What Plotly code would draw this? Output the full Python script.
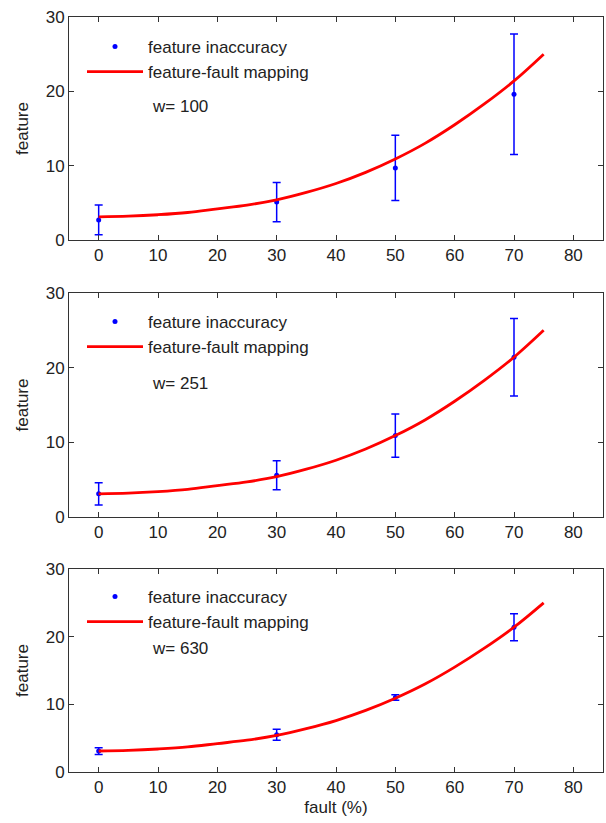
import plotly.graph_objects as go

# ---- data ----
fault_pts = [0, 30, 50, 70]
panel_labels = ["w= 100", "w= 251", "w= 630"]

feat_w100 = [2.7, 5.1, 9.7, 19.6]
err_w100 = [2.0, 2.65, 4.4, 8.1]

feat_w251 = [3.1, 5.6, 10.9, 21.4]
err_w251 = [1.5, 1.95, 2.9, 5.2]

feat_w630 = [3.1, 5.5, 11.0, 21.4]
err_w630 = [0.5, 0.8, 0.4, 2.0]

curve_x = [0, 5, 10, 15, 20, 25, 30, 35, 40, 45, 50, 55, 60, 65, 70, 75]
curve_y = [3.1, 3.2, 3.4, 3.7, 4.2, 4.7, 5.4, 6.4, 7.6, 9.1, 10.9, 13.0, 15.5, 18.3, 21.4, 25.0]

x_ticks = [0, 10, 20, 30, 40, 50, 60, 70, 80]
y_ticks = [0, 10, 20, 30]

feats = [feat_w100, feat_w251, feat_w630]
errs = [err_w100, err_w251, err_w630]

W, H = 606, 823
ml, mr, mt, mb = 69, 3, 16, 51
ph = H - mt - mb
pw = W - ml - mr
panels_px = [(17, 240), (293, 517), (569, 772)]

def ydom(top, bot):
    return [(H - mb - bot) / ph, (H - mb - top) / ph]

FONT = "Liberation Sans, Arial, sans-serif"
FS = 17
fig = go.Figure()

legend_names = ["legend", "legend2", "legend3"]
legend_tops = [29, 304, 579]
note_y = [106, 383, 648]

for i in range(3):
    xa = "x" if i == 0 else f"x{i+1}"
    ya = "y" if i == 0 else f"y{i+1}"
    fig.add_trace(go.Scatter(
        x=fault_pts, y=feats[i], mode="markers",
        marker=dict(color="#0000ff", size=5),
        error_y=dict(type="data", array=errs[i], visible=True,
                     color="#0000ff", thickness=1.5, width=4),
        name="feature inaccuracy", xaxis=xa, yaxis=ya,
        legend=legend_names[i]))
    fig.add_trace(go.Scatter(
        x=curve_x, y=curve_y, mode="lines",
        line=dict(color="#ff0000", width=2.8, shape="spline"),
        name="feature-fault mapping", xaxis=xa, yaxis=ya,
        legend=legend_names[i]))

layout = dict(
    width=W, height=H,
    margin=dict(l=ml, r=mr, t=mt, b=mb, autoexpand=False),
    paper_bgcolor="white", plot_bgcolor="white",
    font=dict(family=FONT, size=FS, color="#222222"),
    showlegend=True,
)

axis_common = dict(showgrid=False, zeroline=False, showline=True,
                   linecolor="#333333", linewidth=1, mirror="allticks",
                   ticks="inside", ticklen=5, tickcolor="#333333",
                   automargin=False,
                   tickfont=dict(family=FONT, size=FS, color="#222222"))

for i in range(3):
    xk = "xaxis" if i == 0 else f"xaxis{i+1}"
    yk = "yaxis" if i == 0 else f"yaxis{i+1}"
    ya = "y" if i == 0 else f"y{i+1}"
    xa = "x" if i == 0 else f"x{i+1}"
    layout[xk] = dict(axis_common, range=[-5, 85], tickvals=x_ticks,
                      domain=[0, 1], anchor=ya)
    layout[yk] = dict(axis_common, range=[0, 30], tickvals=y_ticks,
                      domain=ydom(*panels_px[i]), anchor=xa,
                      title=dict(text="feature", standoff=12,
                                 font=dict(family=FONT, size=FS)))
    if i == 2:
        layout[xk]["title"] = dict(text="fault (%)", standoff=4,
                                   font=dict(family=FONT, size=FS))
    ln = legend_names[i]
    layout[ln] = dict(
        x=(82 - ml) / pw, y=(H - mb - legend_tops[i]) / ph,
        xref="paper", yref="paper", xanchor="left", yanchor="top",
        bgcolor="rgba(0,0,0,0)", borderwidth=0,
        font=dict(family=FONT, size=FS, color="#222222"),
        itemwidth=56, tracegroupgap=0)

fig.update_layout(**layout)

for i in range(3):
    fig.add_annotation(text=panel_labels[i], xref="paper", yref="paper",
                       x=(150 - ml) / pw,
                       y=(H - mb - note_y[i]) / ph,
                       xanchor="left", yanchor="middle", showarrow=False,
                       font=dict(family=FONT, size=FS, color="#222222"))

fig.write_html("out.html",
               config={"displayModeBar": False},
               post_script="document.body.style.margin='0';"
                           "document.body.style.overflow='hidden';")
